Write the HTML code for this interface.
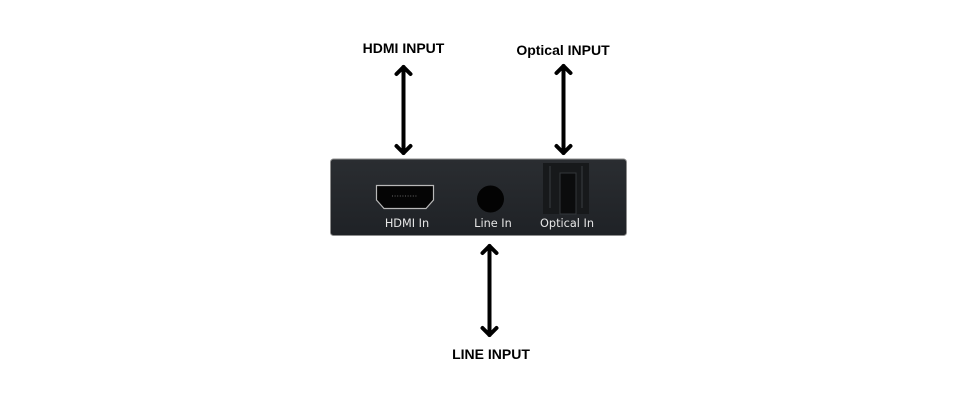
<!DOCTYPE html>
<html><head><meta charset="utf-8"><style>
html,body{margin:0;padding:0;background:#fff;width:956px;height:400px;overflow:hidden}
</style></head><body>
<svg width="956" height="400" viewBox="0 0 956 400" xmlns="http://www.w3.org/2000/svg">
<defs>
<linearGradient id="bx" x1="0" y1="0" x2="0" y2="1">
<stop offset="0" stop-color="#2a2d31"/><stop offset="1" stop-color="#1f2226"/>
</linearGradient>
</defs>
<rect x="0" y="0" width="956" height="400" fill="#fff"/>
<!-- device -->
<rect x="330.5" y="159" width="296" height="76.5" rx="3" fill="url(#bx)" stroke="#8e8e8e" stroke-width="1"/>
<rect x="331" y="160" width="295" height="75" rx="2.5" fill="url(#bx)"/>
<!-- HDMI port -->
<path d="M376.5 185.5 H433.5 V200 L426 208.5 H384 L376.5 200 Z" fill="#050505" stroke="#b8b8b8" stroke-width="1.2"/>
<line x1="392" y1="196" x2="418" y2="196" stroke="#6a6a6a" stroke-width="1" stroke-dasharray="1 1.6"/>
<!-- line in -->
<circle cx="490.5" cy="199" r="13.5" fill="#030303"/>
<!-- optical -->
<rect x="543" y="163" width="46" height="51" fill="#17191b"/>
<rect x="560" y="173" width="16" height="41" fill="#0b0c0d" stroke="#33363a" stroke-width="1"/>
<line x1="550" y1="166" x2="550" y2="208" stroke="#3a3d40" stroke-width="1"/>
<line x1="582" y1="166" x2="582" y2="208" stroke="#3a3d40" stroke-width="1"/>
<!-- labels on device -->
<g font-family="'DejaVu Sans','Liberation Sans',sans-serif" font-size="11.3" fill="#e6e6e6" text-anchor="middle">
<text x="407" y="227">HDMI In</text>
<text x="493" y="227">Line In</text>
<text x="567" y="227">Optical In</text>
</g>
<!-- arrows -->
<g stroke="#000" stroke-width="4" fill="none" stroke-linecap="round" stroke-linejoin="round">
<line x1="403.5" y1="67" x2="403.5" y2="153"/>
<polyline points="396.5,74 403.5,67 410.5,74"/>
<polyline points="396.5,146 403.5,153 410.5,146"/>
<line x1="563.5" y1="66" x2="563.5" y2="153"/>
<polyline points="556.5,73 563.5,66 570.5,73"/>
<polyline points="556.5,146 563.5,153 570.5,146"/>
<line x1="489.5" y1="246" x2="489.5" y2="335"/>
<polyline points="482.5,253 489.5,246 496.5,253"/>
<polyline points="482.5,328 489.5,335 496.5,328"/>
</g>
<!-- top/bottom labels -->
<g font-family="'Liberation Sans',sans-serif" font-weight="bold" font-size="14" fill="#000" text-anchor="middle">
<text x="403.5" y="53">HDMI INPUT</text>
<text x="563" y="55">Optical INPUT</text>
<text x="491" y="359">LINE INPUT</text>
</g>
</svg>
</body></html>
